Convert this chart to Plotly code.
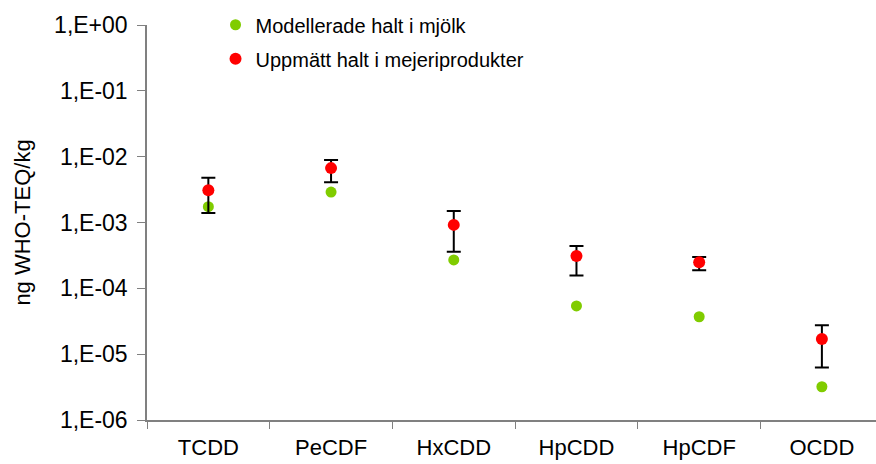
import plotly.graph_objects as go

# Congeners on the x axis
categories = ["TCDD", "PeCDF", "HxCDD", "HpCDD", "HpCDF", "OCDD"]

# Modelled concentration in milk (ng WHO-TEQ/kg)
modelled = [1.74e-3, 2.9e-3, 2.7e-4, 5.4e-5, 3.7e-5, 3.2e-6]

# Measured concentration in dairy products, with range limits
measured = [3.1e-3, 6.7e-3, 9.2e-4, 3.1e-4, 2.5e-4, 1.7e-5]
measured_high = [4.8e-3, 8.9e-3, 1.49e-3, 4.4e-4, 3.0e-4, 2.75e-5]
measured_low = [1.39e-3, 4.1e-3, 3.6e-4, 1.56e-4, 1.88e-4, 6.3e-6]

tick_vals = [1e0, 1e-1, 1e-2, 1e-3, 1e-4, 1e-5, 1e-6]
tick_text = ["1,E+00", "1,E-01", "1,E-02", "1,E-03", "1,E-04", "1,E-05", "1,E-06"]

err_plus = [h - m for h, m in zip(measured_high, measured)]
err_minus = [m - l for m, l in zip(measured, measured_low)]

FONT = "Liberation Sans, Arial, sans-serif"
AXIS_GREY = "#808080"

fig = go.Figure()

fig.add_trace(go.Scatter(
    x=categories, y=modelled, mode="markers",
    name="Modellerade halt i mjölk",
    legendgroup="a",
    marker=dict(color="#80cc00", size=11, line=dict(width=0)),
))

fig.add_trace(go.Scatter(
    x=categories, y=measured, mode="markers",
    name="Uppmätt halt i mejeriprodukter",
    legendgroup="b",
    marker=dict(color="#ff0000", size=12, line=dict(width=0)),
    error_y=dict(type="data", symmetric=False, array=err_plus,
                 arrayminus=err_minus, color="black", thickness=2, width=7),
))

fig.update_layout(
    width=876, height=464,
    margin=dict(l=147, r=0, t=25, b=44),
    paper_bgcolor="white", plot_bgcolor="white",
    font=dict(family=FONT, color="black", size=23),
    showlegend=True,
    legend=dict(
        x=0.094, y=1.05, xanchor="left", yanchor="top",
        bgcolor="rgba(0,0,0,0)", font=dict(size=20),
        tracegroupgap=5, itemwidth=30,
    ),
)

fig.update_xaxes(
    type="category", range=[-0.5, 5.441], automargin=False,
    showline=True, linecolor=AXIS_GREY, linewidth=1.5,
    ticks="outside", tickson="boundaries", ticklen=7, tickcolor=AXIS_GREY,
    showgrid=False, zeroline=False,
    tickfont=dict(size=22), ticklabelstandoff=7,
)

fig.update_yaxes(
    type="log", range=[-6, 0], automargin=False,
    tickvals=tick_vals, ticktext=tick_text,
    showline=True, linecolor=AXIS_GREY, linewidth=1.5,
    ticks="outside", ticklen=8, tickcolor=AXIS_GREY,
    showgrid=False, zeroline=False,
    tickfont=dict(size=23), ticklabelstandoff=5,
    title=dict(text="ng WHO-TEQ/kg", font=dict(size=22), standoff=17),
)

fig.write_html("out.html")
